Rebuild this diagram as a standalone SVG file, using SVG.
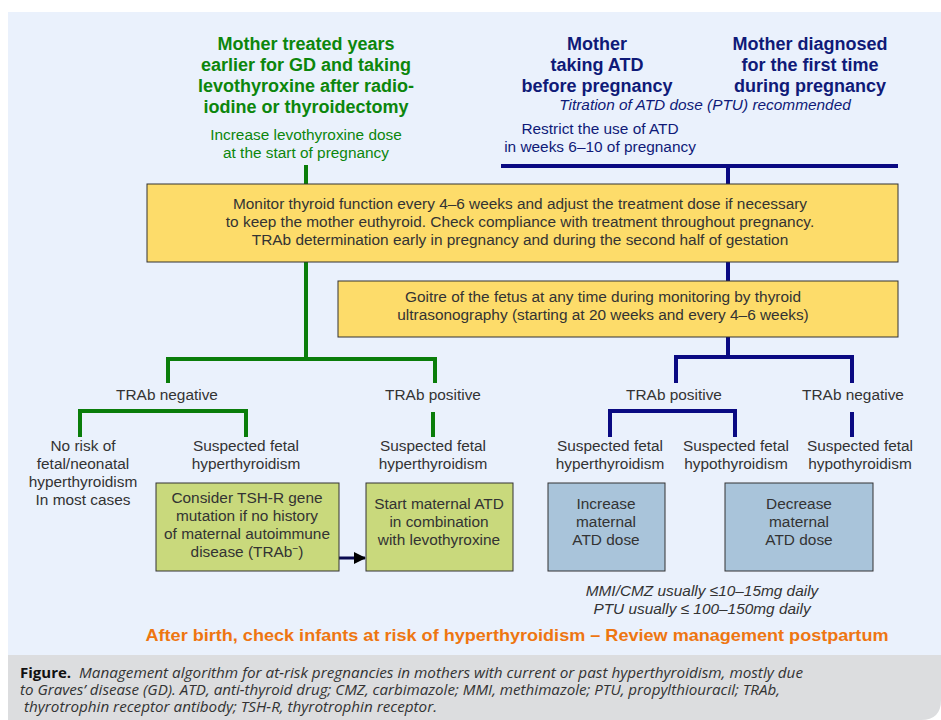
<svg xmlns="http://www.w3.org/2000/svg" width="941" height="720" viewBox="0 0 941 720">
<style>
.t{font-family:"Liberation Sans",Arial,sans-serif;font-size:15.4px;fill:#333;text-anchor:middle}
.hg{font-family:"Liberation Sans",Arial,sans-serif;font-size:18px;font-weight:bold;fill:#0C860C;text-anchor:middle}
.hn{font-family:"Liberation Sans",Arial,sans-serif;font-size:18px;font-weight:bold;fill:#0F1A78;text-anchor:middle}
.sg{font-family:"Liberation Sans",Arial,sans-serif;font-size:15.4px;fill:#0C860C;text-anchor:middle}
.sn{font-family:"Liberation Sans",Arial,sans-serif;font-size:15.4px;fill:#0F1A78;text-anchor:middle}
.yb{fill:#FDDC6A;stroke:#333;stroke-width:1}
.gb{fill:#C9D97C;stroke:#333;stroke-width:1}
.bb{fill:#A9C4DA;stroke:#333;stroke-width:1}
.lg{stroke:#0A7D0A;stroke-width:4;fill:none}
.ln{stroke:#0A0A82;stroke-width:4;fill:none}
.cap{font-family:"Open Sans",sans-serif;font-size:14px;font-style:italic;fill:#333}
</style>
<defs>
<marker id="ah" markerWidth="12" markerHeight="12" refX="11" refY="6" orient="auto" markerUnits="userSpaceOnUse">
<path d="M0,0 L12,6 L0,12 Z" fill="#000"/>
</marker>
</defs>
<rect x="0" y="0" width="941" height="720" fill="#fff"/>
<rect x="8" y="12" width="933" height="643" fill="#EAF1FC"/>
<path d="M8,655 H941 V700 Q941,720 921,720 H8 Z" fill="#DCDDDF"/>

<g id="connectors">
<line class="lg" x1="306" y1="165" x2="306" y2="184"/>
<line class="lg" x1="306" y1="262" x2="306" y2="359"/>
<polyline class="lg" points="168,383 168,359 435,359 435,383"/>
<polyline class="lg" points="80,437 80,411 246,411 246,437"/>
<line class="lg" x1="433" y1="412" x2="433" y2="437"/>
<line class="ln" x1="501" y1="166" x2="898" y2="166"/>
<line class="ln" x1="728" y1="166" x2="728" y2="184"/>
<line class="ln" x1="728" y1="262" x2="728" y2="281"/>
<line class="ln" x1="728" y1="337" x2="728" y2="357"/>
<polyline class="ln" points="676,383 676,357 852,357 852,383"/>
<polyline class="ln" points="610,437 610,411 735,411 735,437"/>
<line class="ln" x1="852" y1="412" x2="852" y2="437"/>
<line x1="339" y1="558" x2="365" y2="558" stroke="#0A0A50" stroke-width="3" marker-end="url(#ah)"/>
</g>

<g id="head-green">
<text class="hg" x="306" y="50">Mother treated years</text>
<text class="hg" x="306" y="71">earlier for GD and taking</text>
<text class="hg" x="306" y="92">levothyroxine after radio-</text>
<text class="hg" x="306" y="113">iodine or thyroidectomy</text>
</g>
<g id="note-green">
<text class="sg" x="306" y="140">Increase levothyroxine dose</text>
<text class="sg" x="306" y="158">at the start of pregnancy</text>
</g>
<g id="head-atd">
<text class="hn" x="597" y="50">Mother</text>
<text class="hn" x="597" y="71">taking ATD</text>
<text class="hn" x="597" y="92">before pregnancy</text>
</g>
<g id="head-new">
<text class="hn" x="810" y="50">Mother diagnosed</text>
<text class="hn" x="810" y="71">for the first time</text>
<text class="hn" x="810" y="92">during pregnancy</text>
</g>
<g id="note-titration">
<text class="sn" x="705" y="110" font-style="italic">Titration of ATD dose (PTU) recommended</text>
</g>
<g id="note-restrict">
<text class="sn" x="600" y="134">Restrict the use of ATD</text>
<text class="sn" x="600" y="152">in weeks 6–10 of pregnancy</text>
</g>

<g id="monitor">
<rect class="yb" x="147" y="184" width="751" height="78"/>
<text class="t" x="520" y="209">Monitor thyroid function every 4–6 weeks and adjust the treatment dose if necessary</text>
<text class="t" x="520" y="227">to keep the mother euthyroid. Check compliance with treatment throughout pregnancy.</text>
<text class="t" x="520" y="245">TRAb determination early in pregnancy and during the second half of gestation</text>
</g>
<g id="goitre">
<rect class="yb" x="338" y="281" width="560" height="56"/>
<text class="t" x="603" y="302">Goitre of the fetus at any time during monitoring by thyroid</text>
<text class="t" x="603" y="320">ultrasonography (starting at 20 weeks and every 4–6 weeks)</text>
</g>

<g id="trab-neg-g"><text class="t" x="167" y="400">TRAb negative</text></g>
<g id="trab-pos-g"><text class="t" x="433" y="400">TRAb positive</text></g>
<g id="trab-pos-n"><text class="t" x="674" y="400">TRAb positive</text></g>
<g id="trab-neg-n"><text class="t" x="853" y="400">TRAb negative</text></g>

<g id="no-risk">
<text class="t" x="83" y="451">No risk of</text>
<text class="t" x="83" y="469">fetal/neonatal</text>
<text class="t" x="83" y="487">hyperthyroidism</text>
<text class="t" x="83" y="505">In most cases</text>
</g>
<g id="susp1">
<text class="t" x="246" y="451">Suspected fetal</text>
<text class="t" x="246" y="469">hyperthyroidism</text>
</g>
<g id="susp2">
<text class="t" x="433" y="451">Suspected fetal</text>
<text class="t" x="433" y="469">hyperthyroidism</text>
</g>
<g id="susp3">
<text class="t" x="610" y="451">Suspected fetal</text>
<text class="t" x="610" y="469">hyperthyroidism</text>
</g>
<g id="susp4">
<text class="t" x="736" y="451">Suspected fetal</text>
<text class="t" x="736" y="469">hypothyroidism</text>
</g>
<g id="susp5">
<text class="t" x="860" y="451">Suspected fetal</text>
<text class="t" x="860" y="469">hypothyroidism</text>
</g>

<g id="tshr">
<rect class="gb" x="156" y="483" width="183" height="88"/>
<text class="t" x="247" y="503">Consider TSH-R gene</text>
<text class="t" x="247" y="521">mutation if no history</text>
<text class="t" x="247" y="539">of maternal autoimmune</text>
<text class="t" x="247" y="557">disease (TRAb<tspan dy="-5" font-size="10">−</tspan><tspan dy="5">)</tspan></text>
</g>
<g id="start-atd">
<rect class="gb" x="366" y="483" width="147" height="88"/>
<text class="t" x="439" y="509">Start maternal ATD</text>
<text class="t" x="439" y="527">in combination</text>
<text class="t" x="439" y="545">with levothyroxine</text>
</g>
<g id="increase">
<rect class="bb" x="548" y="483" width="117" height="88"/>
<text class="t" x="606" y="509">Increase</text>
<text class="t" x="606" y="527">maternal</text>
<text class="t" x="606" y="545">ATD dose</text>
</g>
<g id="decrease">
<rect class="bb" x="725" y="483" width="148" height="88"/>
<text class="t" x="799" y="509">Decrease</text>
<text class="t" x="799" y="527">maternal</text>
<text class="t" x="799" y="545">ATD dose</text>
</g>

<g id="doses">
<text class="t" x="702" y="596" font-style="italic">MMI/CMZ usually ≤10–15mg daily</text>
<text class="t" x="702" y="614" font-style="italic">PTU usually ≤ 100–150mg daily</text>
</g>
<g id="after-birth">
<text x="517" y="641" font-family="Liberation Sans, Arial, sans-serif" font-size="17" font-weight="bold" fill="#EE7611" text-anchor="middle" textLength="743" lengthAdjust="spacingAndGlyphs">After birth, check infants at risk of hyperthyroidism – Review management postpartum</text>
</g>

<g id="caption">
<text x="20" y="678" font-family="Open Sans, sans-serif" font-size="15" font-weight="bold" fill="#111">Figure.</text>
<text class="cap" x="79" y="678" textLength="724" lengthAdjust="spacingAndGlyphs">Management algorithm for at-risk pregnancies in mothers with current or past hyperthyroidism, mostly due</text>
<text class="cap" x="20" y="695" textLength="760" lengthAdjust="spacingAndGlyphs">to Graves’ disease (GD). ATD, anti-thyroid drug; CMZ, carbimazole; MMI, methimazole; PTU, propylthiouracil; TRAb,</text>
<text class="cap" x="24" y="712" textLength="413" lengthAdjust="spacingAndGlyphs">thyrotrophin receptor antibody; TSH-R, thyrotrophin receptor.</text>
</g>
</svg>
